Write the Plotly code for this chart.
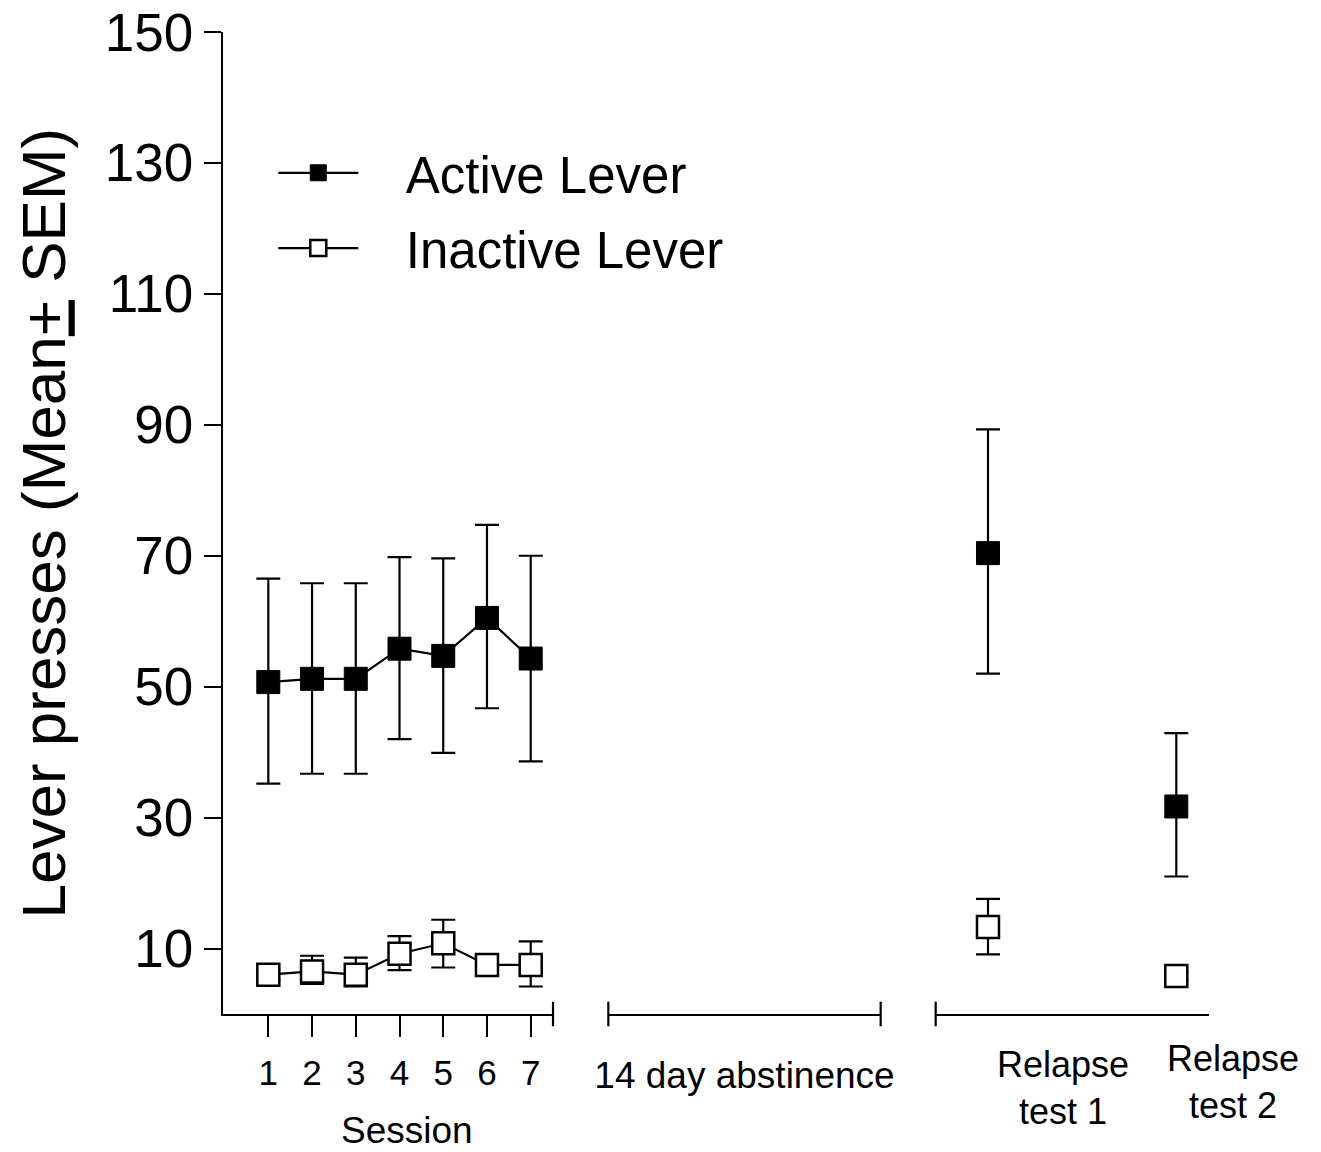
import plotly.graph_objects as go

# ---------------- data ----------------
sessions = [1, 2, 3, 4, 5, 6, 7]
session_labels = ["1", "2", "3", "4", "5", "6", "7"]

active_mean = [50.7, 51.2, 51.2, 55.8, 54.7, 60.5, 54.3]
active_upper = [66.5, 65.8, 65.8, 69.8, 69.6, 74.7, 70.0]
active_lower = [35.2, 36.7, 36.7, 42.0, 39.9, 46.7, 38.6]

inactive_mean = [6.0, 6.5, 6.0, 9.2, 10.8, 7.5, 7.5]
inactive_upper = [6.8, 8.9, 8.6, 11.9, 14.4, 8.3, 11.1]
inactive_lower = [5.2, 4.6, 4.2, 6.7, 7.1, 6.7, 4.2]

relapse_x = [1, 2]
relapse_labels = ["Relapse<br>test 1", "Relapse<br>test 2"]
relapse_active_mean = [70.4, 31.7]
relapse_active_upper = [89.3, 42.9]
relapse_active_lower = [52.0, 21.0]
relapse_inactive_mean = [13.3, 5.8]
relapse_inactive_upper = [17.6, 6.5]
relapse_inactive_lower = [9.1, 5.1]

y_ticks = [10, 30, 50, 70, 90, 110, 130, 150]

FONT = "Liberation Sans, Arial, sans-serif"
NB = "\u00a0"


def plus(up, m):
    return [u - v for u, v in zip(up, m)]


def minus(lo, m):
    return [v - l for l, v in zip(lo, m)]


def err(up, lo, m):
    return dict(type="data", symmetric=False, array=plus(up, m),
                arrayminus=minus(lo, m), color="black", thickness=2.2, width=12)


fig = go.Figure()

fig.add_trace(go.Scatter(
    x=sessions, y=active_mean, name=NB * 3 + "Active Lever", mode="lines+markers",
    xaxis="x", yaxis="y", legendgroup="a",
    line=dict(color="black", width=2.2),
    marker=dict(symbol="square", size=23, color="black",
                line=dict(color="black", width=1)),
    error_y=err(active_upper, active_lower, active_mean), cliponaxis=False,
))
fig.add_trace(go.Scatter(
    x=sessions, y=inactive_mean, name=NB * 3 + "Inactive Lever", mode="lines+markers",
    xaxis="x", yaxis="y", legendgroup="b",
    line=dict(color="black", width=2.2),
    marker=dict(symbol="square", size=22, color="white",
                line=dict(color="black", width=2.5)),
    error_y=err(inactive_upper, inactive_lower, inactive_mean), cliponaxis=False,
))
fig.add_trace(go.Scatter(
    x=relapse_x, y=relapse_active_mean, mode="markers", showlegend=False,
    xaxis="x3", yaxis="y",
    marker=dict(symbol="square", size=23, color="black",
                line=dict(color="black", width=1)),
    error_y=err(relapse_active_upper, relapse_active_lower, relapse_active_mean),
    cliponaxis=False,
))
fig.add_trace(go.Scatter(
    x=relapse_x, y=relapse_inactive_mean, mode="markers", showlegend=False,
    xaxis="x3", yaxis="y",
    marker=dict(symbol="square", size=22, color="white",
                line=dict(color="black", width=2.5)),
    error_y=err(relapse_inactive_upper, relapse_inactive_lower, relapse_inactive_mean),
    cliponaxis=False,
))
# invisible trace so the abstinence axis segment is drawn
fig.add_trace(go.Scatter(x=[0.5], y=[-10], mode="markers", showlegend=False,
                         xaxis="x2", yaxis="y", marker=dict(opacity=0),
                         hoverinfo="skip"))

axis_common = dict(showline=True, linecolor="black", linewidth=2.2,
                   showgrid=False, zeroline=False, anchor="y", automargin=False,
                   tickfont=dict(family=FONT, size=35, color="black"))

fig.update_layout(
    width=1321, height=1152,
    paper_bgcolor="white", plot_bgcolor="white",
    margin=dict(l=223, r=112, t=32, b=138),
    showlegend=True,
    legend=dict(x=0.051, y=0.897, xanchor="left", yanchor="top",
                font=dict(family=FONT, size=51, color="black"),
                bgcolor="rgba(0,0,0,0)", itemwidth=80,
                traceorder="grouped", tracegroupgap=6),
    xaxis=dict(domain=[0, 0.3347], range=[-0.036, 7.51],
               tickvals=sessions, ticktext=session_labels,
               ticks="outside", ticklen=21, tickwidth=2.2, tickcolor="black",
               ticklabelstandoff=6, **axis_common),
    xaxis2=dict(domain=[0.3908, 0.6670], range=[0, 1],
                tickvals=[0.5], ticktext=["14 day abstinence"],
                ticks="outside", ticklen=21, tickcolor="rgba(0,0,0,0)",
                ticklabelstandoff=6,
                **{**axis_common, "tickfont": dict(family=FONT, size=37, color="black")}),
    xaxis3=dict(domain=[0.7228, 1.0], range=[0.7222, 2.1737],
                showticklabels=False, ticks="", **axis_common),
    yaxis=dict(range=[0, 150], domain=[0, 1], tickvals=y_ticks,
               ticks="outside", ticklen=17, tickwidth=2.2, tickcolor="black",
               showline=True, linecolor="black", linewidth=2.2,
               showgrid=False, zeroline=False, ticklabelstandoff=0,
               ticklabeloverflow="allow", automargin=False,
               tickfont=dict(family=FONT, size=53, color="black")),
)

# end caps of the broken x-axis segments
cap = dict(type="line", yref="paper", y0=-0.0125, y1=0.0125,
           line=dict(color="black", width=2.2))
fig.add_shape(xref="x domain", x0=1, x1=1, **cap)
fig.add_shape(xref="x2 domain", x0=0, x1=0, **cap)
fig.add_shape(xref="x2 domain", x0=1, x1=1, **cap)
fig.add_shape(xref="x3 domain", x0=0, x1=0, **cap)

# axis titles / labels
fig.add_annotation(text="Lever presses (Mean<u>+</u> SEM)", textangle=-90,
                   xref="paper", yref="paper", x=-0.183, y=0.5,
                   xanchor="center", yanchor="middle", showarrow=False,
                   font=dict(family=FONT, size=62, color="black"))
fig.add_annotation(text="Session", xref="paper", yref="paper",
                   x=(407 - 223) / 986, y=-0.119,
                   xanchor="center", yanchor="middle", showarrow=False,
                   font=dict(family=FONT, size=37, color="black"))
fig.add_annotation(text=relapse_labels[0], xref="paper", yref="paper",
                   x=(1063 - 223) / 986, y=-0.075, xanchor="center", yanchor="middle",
                   showarrow=False, font=dict(family=FONT, size=36, color="black"))
fig.add_annotation(text=relapse_labels[1], xref="paper", yref="paper",
                   x=(1233 - 223) / 986, y=-0.069, xanchor="center", yanchor="middle",
                   showarrow=False, font=dict(family=FONT, size=36, color="black"))

fig.write_html("out.html", config={"displayModeBar": False},
               post_script="document.body.style.margin='0';document.body.style.overflow='hidden';")
